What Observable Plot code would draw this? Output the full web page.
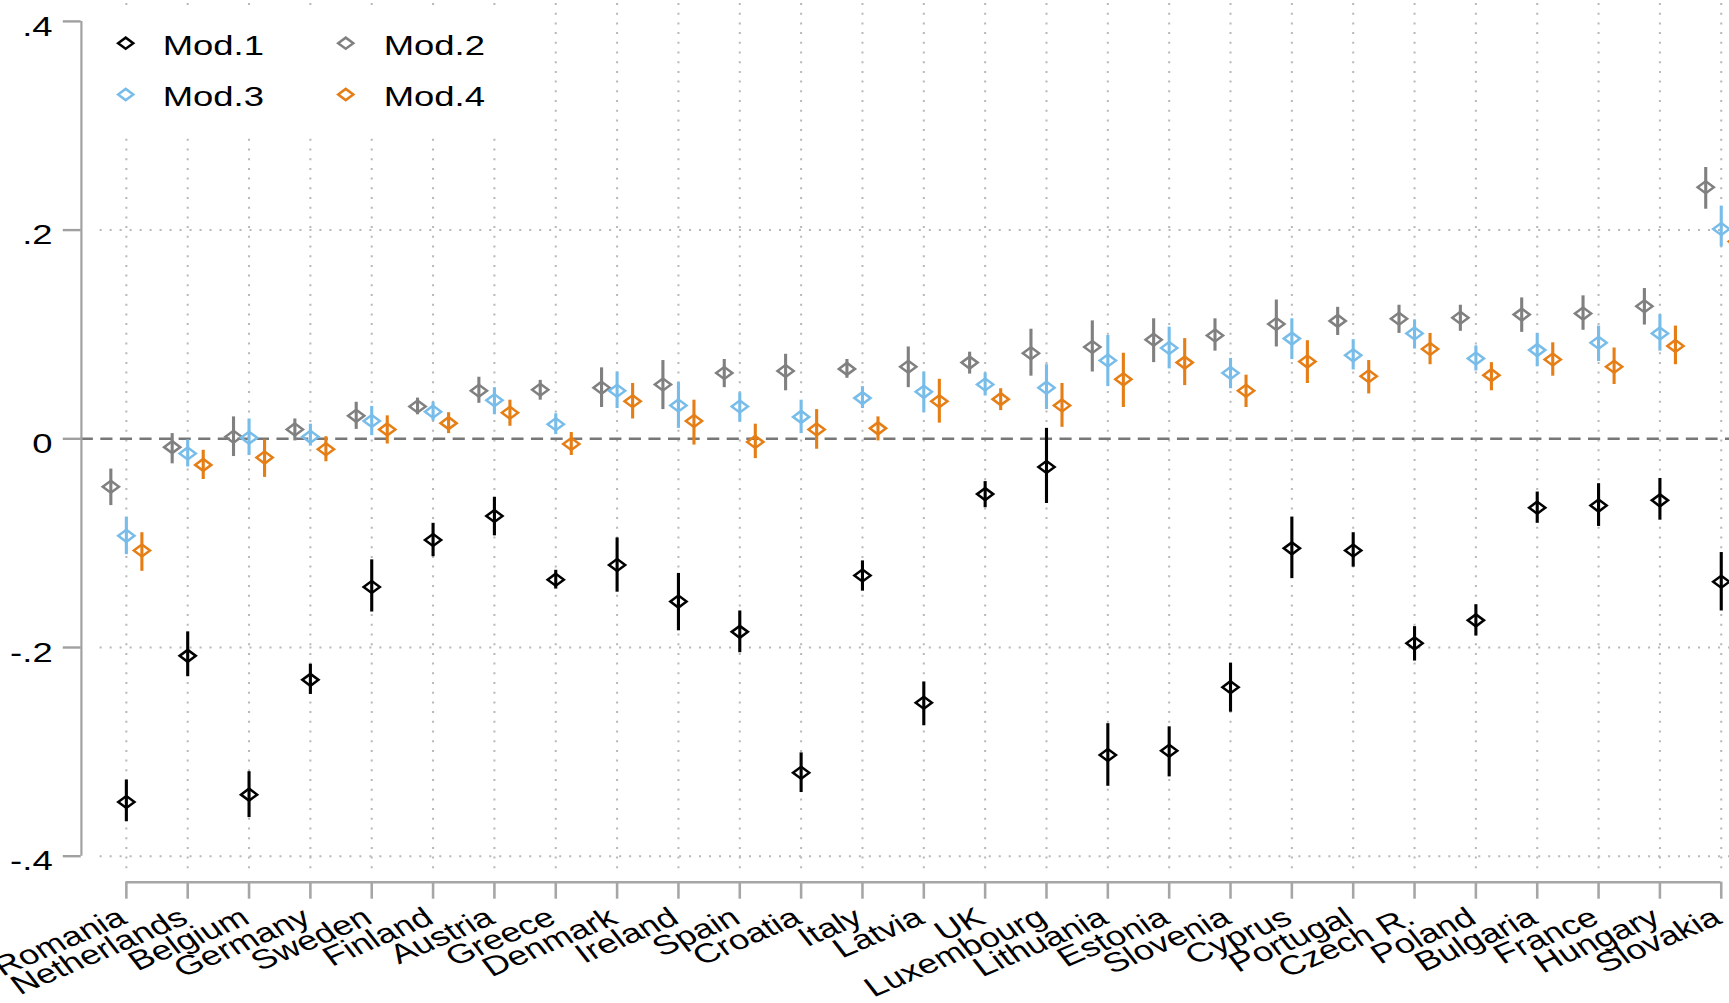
<!DOCTYPE html>
<html>
<head>
<meta charset="utf-8">
<script src="https://cdn.jsdelivr.net/npm/d3@7"></script>
<script src="https://cdn.jsdelivr.net/npm/@observablehq/plot@0.6"></script>
<style>
html, body { margin: 0; padding: 0; background: #fff; overflow: hidden; }
#wrap { width: 1281px; height: 1003px; transform: scaleX(1.35); transform-origin: 0 0; }
</style>
</head>
<body>
<div id="wrap"></div>
<script>
// ---------------- data ----------------
const countries = ["Romania","Netherlands","Belgium","Germany","Sweden","Finland","Austria","Greece","Denmark","Ireland","Spain","Croatia","Italy","Latvia","UK","Luxembourg","Lithuania","Estonia","Slovenia","Cyprus","Portugal","Czech R.","Poland","Bulgaria","France","Hungary","Slovakia"];

const series = ["Mod.1","Mod.2","Mod.3","Mod.4"];
const colors = ["#000000","#808080","#78bde9","#e67e16"];

const yTicks = [-0.4, -0.2, 0, 0.2, 0.4];
const yTickLabels = ["-.4", "-.2", "0", ".2", ".4"];
const yGrid = [0.2, -0.2, -0.4];

const mod1Est = [-0.348,-0.208,-0.341,-0.231,-0.142,-0.097,-0.074,-0.135,-0.121,-0.156,-0.185,-0.320,-0.131,-0.253,-0.053,-0.027,-0.303,-0.299,-0.238,-0.105,-0.107,-0.196,-0.174,-0.066,-0.064,-0.059,-0.137];
const mod1Lo  = [-0.367,-0.228,-0.363,-0.245,-0.166,-0.113,-0.093,-0.144,-0.147,-0.184,-0.205,-0.339,-0.146,-0.275,-0.066,-0.062,-0.333,-0.324,-0.262,-0.134,-0.123,-0.213,-0.189,-0.081,-0.084,-0.078,-0.165];
const mod1Hi  = [-0.327,-0.185,-0.319,-0.216,-0.116,-0.081,-0.056,-0.126,-0.095,-0.129,-0.165,-0.301,-0.117,-0.233,-0.041, 0.010,-0.273,-0.276,-0.215,-0.075,-0.090,-0.180,-0.159,-0.051,-0.043,-0.038,-0.109];

const mod2Est = [-0.046,-0.008, 0.002, 0.009, 0.022, 0.031, 0.046, 0.047, 0.049, 0.052, 0.063, 0.065, 0.067, 0.069, 0.073, 0.082, 0.088, 0.095, 0.099, 0.110, 0.113, 0.115, 0.116, 0.119, 0.120, 0.127, 0.241];
const mod2Lo  = [-0.064,-0.024,-0.017,-0.002, 0.009, 0.023, 0.034, 0.037, 0.030, 0.028, 0.049, 0.046, 0.058, 0.049, 0.062, 0.060, 0.064, 0.073, 0.084, 0.088, 0.099, 0.101, 0.103, 0.102, 0.104, 0.109, 0.220];
const mod2Hi  = [-0.029, 0.005, 0.021, 0.019, 0.035, 0.039, 0.059, 0.056, 0.068, 0.075, 0.076, 0.081, 0.076, 0.088, 0.083, 0.105, 0.113, 0.115, 0.115, 0.133, 0.126, 0.128, 0.128, 0.135, 0.137, 0.144, 0.260];

const mod3Est = [-0.093,-0.014, 0.001, 0.002, 0.017, 0.026, 0.037, 0.014, 0.046, 0.032, 0.031, 0.021, 0.039, 0.045, 0.052, 0.049, 0.075, 0.087, 0.063, 0.096, 0.080, 0.101, 0.077, 0.085, 0.092, 0.101, 0.201];
const mod3Lo  = [-0.111,-0.027,-0.016,-0.007, 0.003, 0.017, 0.023, 0.004, 0.029, 0.010, 0.016, 0.005, 0.029, 0.025, 0.041, 0.028, 0.050, 0.067, 0.048, 0.076, 0.066, 0.086, 0.065, 0.069, 0.074, 0.084, 0.184];
const mod3Hi  = [-0.075,-0.001, 0.019, 0.014, 0.031, 0.035, 0.049, 0.024, 0.064, 0.054, 0.044, 0.037, 0.050, 0.064, 0.063, 0.071, 0.099, 0.107, 0.077, 0.115, 0.095, 0.114, 0.089, 0.101, 0.108, 0.119, 0.223];

const mod4Est = [-0.107,-0.025,-0.018,-0.010, 0.009, 0.015, 0.025,-0.005, 0.036, 0.017,-0.003, 0.009, 0.010, 0.036, 0.038, 0.032, 0.057, 0.073, 0.046, 0.074, 0.060, 0.086, 0.061, 0.076, 0.069, 0.089, 0.189];
const mod4Lo  = [-0.127,-0.039,-0.037,-0.022,-0.005, 0.005, 0.012,-0.016, 0.019,-0.006,-0.019,-0.010,-0.002, 0.015, 0.027, 0.011, 0.030, 0.051, 0.030, 0.053, 0.043, 0.071, 0.046, 0.060, 0.052, 0.071, 0.172];
const mod4Hi  = [-0.090,-0.011,-0.001, 0.002, 0.022, 0.025, 0.037, 0.006, 0.053, 0.037, 0.014, 0.028, 0.021, 0.057, 0.048, 0.053, 0.082, 0.096, 0.061, 0.094, 0.075, 0.101, 0.073, 0.092, 0.087, 0.108, 0.207];

const est = [mod1Est, mod2Est, mod3Est, mod4Est];
const lo  = [mod1Lo,  mod2Lo,  mod3Lo,  mod4Lo];
const hi  = [mod1Hi,  mod2Hi,  mod3Hi,  mod4Hi];

const rows = series.map((s, k) => countries.map((c, i) => ({model: s, country: c, est: est[k][i], lo: lo[k][i], hi: hi[k][i]})));

// ---------------- styling ----------------
const W = 1281, H = 1003;
const offsets = [0, -11.5, 0, 11.5];          // horizontal dodge (px) per model
const legendCol = [{sym: 32.8, txt: 60.2}, {sym: 195.8, txt: 223.9}];
const legendRow = [{sym: 39.7, txt: 42.5}, {sym: 91, txt: 93.5}];
const FS = 27;

const diamond = {
  draw(context, size) {
    const r = Math.sqrt(size / Math.PI);
    context.moveTo(0, -r);
    context.lineTo(r, 0);
    context.lineTo(0, r);
    context.lineTo(-r, 0);
    context.closePath();
  }
};

const dataMarks = rows.flatMap((data, k) => [
  Plot.ruleX(data, {x: "country", y1: "lo", y2: "hi", dx: offsets[k], stroke: colors[k], strokeWidth: 2.3}),
  Plot.dot(data, {x: "country", y: "est", dx: offsets[k], symbol: diamond, r: 6, stroke: colors[k], strokeWidth: 2.2, fill: "none"})
]);

const legendMarks = series.flatMap((s, k) => {
  const col = legendCol[k % 2], row = legendRow[Math.floor(k / 2)];
  return [
    Plot.dot([s], {frameAnchor: "top-left", dx: col.sym, dy: row.sym, symbol: diamond, r: 5.6, stroke: colors[k], strokeWidth: 2.2, fill: "none"}),
    Plot.text([s], {text: d => d, frameAnchor: "top-left", textAnchor: "start", lineAnchor: "middle", dx: col.txt, dy: row.txt, fontSize: FS, fill: "#000"})
  ];
});

const chart = Plot.plot({
  width: W,
  height: H,
  marginLeft: 59.8,
  marginRight: 0,
  marginTop: 3,
  marginBottom: 121.3,
  style: {fontFamily: "'Liberation Sans', Arial, Helvetica, sans-serif", background: "white"},
  x: {type: "point", domain: countries, range: [93.1, 1274.5], padding: 0, round: false, axis: null},
  y: {domain: [-0.4, 0.4], range: [855.7, 20.9], axis: null},
  marks: [
    // vertical dotted grid
    Plot.ruleX(countries, {x: d => d, stroke: "#b8b8b8", strokeWidth: 1.5, strokeDasharray: "2,7.7", insetBottom: 8}),
    // horizontal dotted grid
    Plot.ruleY(yGrid, {y: d => d, stroke: "#b8b8b8", strokeWidth: 2, strokeDasharray: "1.5,5.9", insetLeft: 14}),
    // legend background
    Plot.frame({fill: "white", stroke: "none", insetLeft: 3.2, insetRight: 907, insetTop: 7, insetBottom: 749.7}),
    // zero reference line
    Plot.ruleY([0], {y: d => d, stroke: "#777777", strokeWidth: 2.4, strokeDasharray: "9,5.5"}),
    // y axis
    Plot.ruleX([countries[0]], {x: d => d, y1: yTicks[0], y2: yTicks[yTicks.length - 1], dx: -33.3, stroke: "#a0a0a0", strokeWidth: 1.6}),
    Plot.axisY({ticks: yTicks, tickSize: 13.3, stroke: "#a0a0a0", strokeWidth: 2.4, fill: "none", label: null}),
    Plot.text(yTicks, {y: d => d, text: (d, i) => yTickLabels[i], frameAnchor: "left", textAnchor: "end", lineAnchor: "middle", dx: -21.3, dy: 5.5, fontSize: FS, fill: "#000"}),
    // x axis
    Plot.ruleY([yTicks[0]], {y: d => d, x1: () => countries[0], x2: () => countries[countries.length - 1], dy: 26, stroke: "#a6a6a6", strokeWidth: 2.6}),
    Plot.axisX({tickSize: 17, stroke: "#a6a6a6", strokeWidth: 1.9, fill: "none", label: null}),
    Plot.text(countries, {x: d => d, text: d => d, frameAnchor: "bottom", rotate: -30, textAnchor: "end", lineAnchor: "bottom", dx: 1.8, dy: 40.3, fontSize: FS, fill: "#000"}),
    ...dataMarks,
    ...legendMarks
  ]
});

document.getElementById("wrap").appendChild(chart);
</script>
</body>
</html>
